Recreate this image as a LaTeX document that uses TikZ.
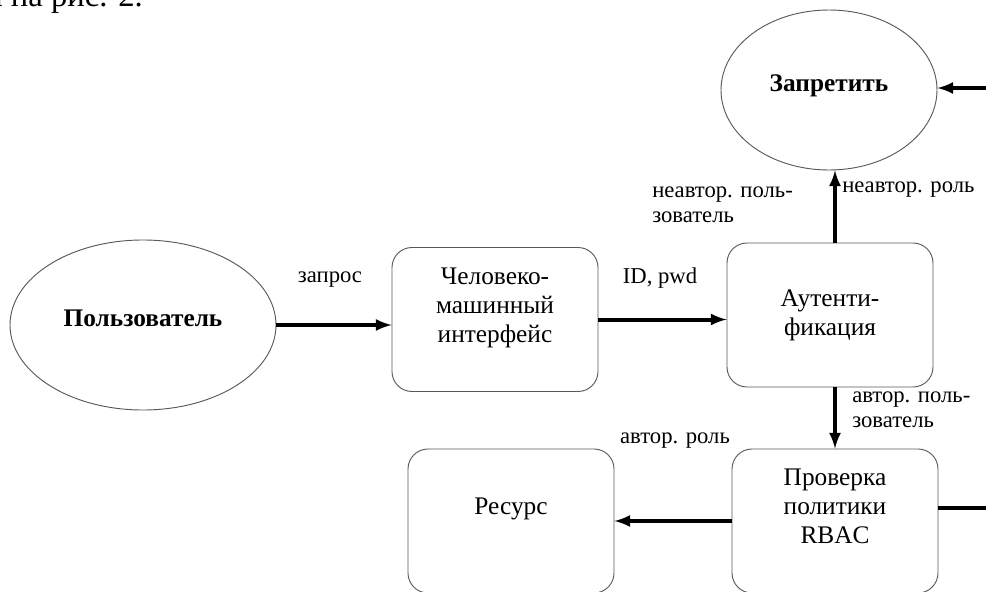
\documentclass[tikz,border=0pt]{standalone}
\usepackage{fontspec}
\setmainfont{Liberation Serif}
\usetikzlibrary{shapes, arrows, positioning}

\begin{document}
\begin{tikzpicture}[x=0.75pt, y=-0.75pt,
  blok/.style={draw=black!65, line width=0.7pt, rounded corners=15pt, minimum width=154.5pt, minimum height=108pt, align=center, font=\fontsize{19}{21.75}\selectfont},
  oval/.style={draw=black!65, line width=0.7pt, ellipse, inner sep=0pt, text depth=10pt, font=\bfseries\fontsize{19}{21.75}\selectfont},
  podpis/.style={align=left, inner sep=0pt, font=\fontsize{17}{18.75}\selectfont},
  strelka/.style={-latex, line width=3pt}]
 \useasboundingbox (0, 0) rectangle (986, 592);
 \node[anchor=base west, inner sep=0pt, font=\fontsize{24.5}{28}\selectfont] (tekst) at (-15, 7) {и на рис. 2.};
 \node[oval, minimum width=199.5pt, minimum height=127.5pt] (user) at (143, 325) {Пользователь};
 \node[oval, minimum width=162pt, minimum height=120pt] (deny) at (829, 90) {Запретить};
 \node[blok] (hmi) at (495, 319.5) {Человеко-\\машинный\\интерфейс\\\mbox{}};
 \node[blok] (auth) at (830, 315) {Аутенти-\\фикация};
 \node[blok] (rbac) at (835, 521) {Проверка\\политики\\RBAC\\\mbox{}};
 \node[blok] (res) at (511, 521) {Ресурс\\\mbox{}};
 \node[podpis] (lzapros) at (330, 280) {запрос};
 \node[podpis] (lid) at (660, 278) {ID, pwd};
 \node[podpis, anchor=west] (lneuser) at (652, 205) {неавтор. поль-\\зователь};
 \node[podpis, anchor=west] (lnerole) at (842, 190) {неавтор. роль};
 \node[podpis, anchor=west] (luser) at (852, 410) {автор. поль-\\зователь};
 \node[podpis] (lrole) at (675, 441) {автор. роль};
 \coordinate (vert) at (835, 0);
 \coordinate (vhod) at (990, 88);
 \coordinate (vyhod) at (990, 508);
 \draw[strelka] (user.east) -- (user.east -| hmi.west);
 \draw[strelka] (hmi.east) -- (hmi.east -| auth.west);
 \draw[strelka] (auth.north -| vert) -- (deny.south -| vert);
 \draw[strelka] (auth.south -| rbac.north) -- (rbac.north);
 \draw[strelka] (rbac.west) -- (rbac.west -| res.east);
 \draw[strelka] (vhod) -- (vhod -| deny.east);
 \draw[line width=3pt] (rbac.east |- vyhod) -- (vyhod);
\end{tikzpicture}
\end{document}
